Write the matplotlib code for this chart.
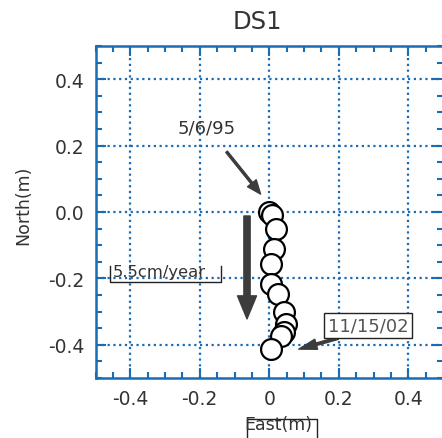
import numpy as np
import matplotlib
matplotlib.use('Agg')
import matplotlib.pyplot as plt
from matplotlib.ticker import FixedLocator, FixedFormatter, MultipleLocator
from matplotlib.lines import Line2D

# station DS1 positions, 5/6/95 .. 11/15/02
east = [0.0, 0.009, 0.019, 0.014, 0.004, 0.004, 0.026, 0.043, 0.048, 0.043, 0.033, 0.004]
north = [0.0, -0.008, -0.051, -0.111, -0.157, -0.217, -0.248, -0.302, -0.337, -0.362, -0.373, -0.413]

xticks = [-0.4, -0.2, 0.0, 0.2, 0.4]
xticklabels = ['-0.4', '-0.2', '0', '0.2', '0.4']
yticks = [-0.4, -0.2, 0.0, 0.2, 0.4]
yticklabels = ['-0.4', '-0.2', '0.0', '0.2', '0.4']

blue = '#1a6cb4'
txt = '#333333'
arr = '#3c3c3c'

fig = plt.figure(figsize=(4.42, 4.39), dpi=100)
W, H = 442.0, 439.0
ax = fig.add_axes([95.5/W, 1-379/H, (443-95.5)/W, (379-47)/H])

ax.set_xlim(-0.5, 0.5)
ax.set_ylim(-0.5, 0.5)
ax.xaxis.set_major_locator(FixedLocator(xticks))
ax.xaxis.set_major_formatter(FixedFormatter(xticklabels))
ax.yaxis.set_major_locator(FixedLocator(yticks))
ax.yaxis.set_major_formatter(FixedFormatter(yticklabels))
ax.xaxis.set_minor_locator(MultipleLocator(0.05))
ax.yaxis.set_minor_locator(MultipleLocator(0.05))
ax.tick_params(which='both', direction='in', top=True, right=True, color=blue,
               width=1.5, labelsize=13.5, labelcolor=txt, pad=8)
ax.tick_params(which='major', length=7)
ax.tick_params(which='minor', length=4)
for s in ax.spines.values():
    s.set_color(blue)
    s.set_linewidth(1.8)
ax.grid(True, which='major', color=blue, linestyle=(0, (1.0, 1.6)), linewidth=1.6)
ax.set_axisbelow(True)

ax.plot(east, north, linestyle='none', marker='o', markersize=15,
        markerfacecolor='white', markeredgecolor='black', markeredgewidth=1.6, zorder=5)

# labels
fig.text(257/W, 1-22/H, 'DS1', ha='center', va='center', fontsize=17.5, color=txt)
fig.text(23/W, 1-205/H, 'North(m)', ha='center', va='center', rotation=90, fontsize=12.5, color=txt)
fig.text(278/W, 1-425/H, 'East(m)', ha='center', va='center', fontsize=12.5, color=txt)
fig.add_artist(Line2D([247/W, 247/W, 317/W, 317/W], [1-445/H, 1-420/H, 1-420/H, 1-445/H],
                      color='#222222', lw=1.0))

# annotations
ax.annotate('5/6/95', xy=(-0.025, 0.054), xytext=(-0.18, 0.256), ha='center', va='center',
            fontsize=13, color=txt,
            arrowprops=dict(arrowstyle='simple,head_length=1.0,head_width=0.8,tail_width=0.15',
                            mutation_scale=10, color=arr, shrinkA=12, shrinkB=0))
ax.annotate('', xy=(-0.064, -0.322), xytext=(-0.064, -0.012),
            arrowprops=dict(arrowstyle='simple,head_length=1.66,head_width=1.37,tail_width=0.45',
                            mutation_scale=10, color=arr, shrinkA=0, shrinkB=0))
ax.annotate('', xy=(0.085, -0.413), xytext=(0.198, -0.38),
            arrowprops=dict(arrowstyle='simple,head_length=1.3,head_width=0.75,tail_width=0.18',
                            mutation_scale=10, color=arr, shrinkA=0, shrinkB=0))
ax.text(0.285, -0.343, '11/15/02', ha='center', va='center', fontsize=13, color='#555555',
        bbox=dict(boxstyle='square,pad=0.2', facecolor='white', edgecolor='#222222', lw=1.0),
        zorder=6)
ax.text(-0.450, -0.180, '5.5cm/year', ha='left', va='center', fontsize=11.8, color=txt, zorder=6)
ax.plot([-0.458, -0.458, -0.140, -0.140], [-0.163, -0.211, -0.211, -0.163],
        color='#222222', lw=1.0, zorder=6)

fig.savefig('out.png', dpi=100)
